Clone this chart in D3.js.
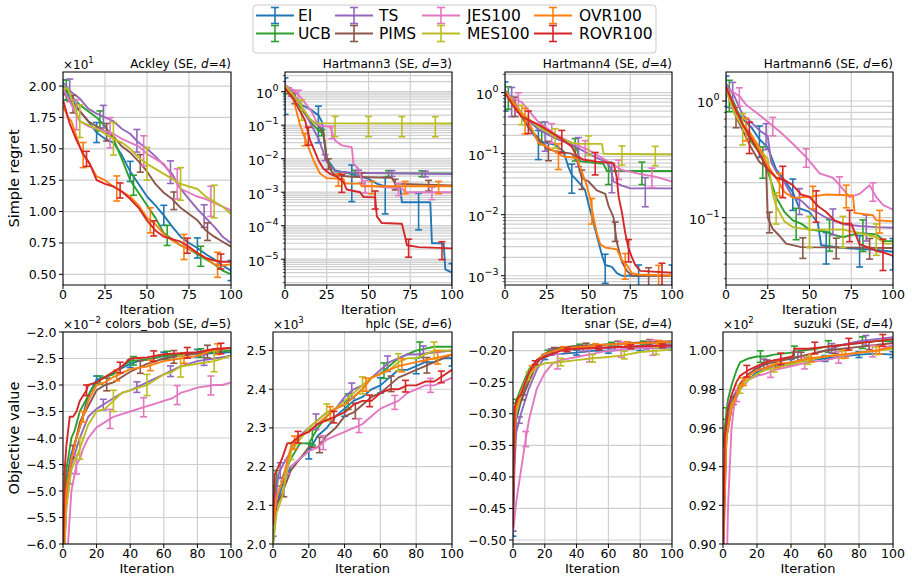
<!DOCTYPE html>
<html><head><meta charset="utf-8">
<script src="https://cdn.jsdelivr.net/npm/d3@7"></script>
<style>body{margin:0;background:#fff}svg{display:block;font-family:"DejaVu Sans",sans-serif}</style>
</head><body><svg id="c" width="912" height="581"></svg>
<script>
// ---------------- DATA ----------------
const seriesNames = ["EI","UCB","TS","PIMS","JES100","MES100","OVR100","ROVR100"];
const seriesColors = ["#1f77b4","#2ca02c","#9467bd","#8c564b","#e377c2","#bcbd22","#ff7f0e","#d62728"];
const errStart = [0,2,4,6,8,10,12,14];   // iteration of first error bar per series
const errEvery = 20;
const topXTicks = [0,25,50,75,100];
const bottomXTicks = [0,20,40,60,80,100];
const ackleyTicks = [0.5,0.75,1.0,1.25,1.5,1.75,2.0];
const bobTicks = [-6,-5.5,-5,-4.5,-4,-3.5,-3,-2.5,-2];
const hplcTicks = [2.0,2.1,2.2,2.3,2.4,2.5];
const snarTicks = [-0.5,-0.45,-0.4,-0.35,-0.3,-0.25,-0.2];
const suzukiTicks = [0.90,0.92,0.94,0.96,0.98,1.00];

// series order: EI, UCB, TS, PIMS, JES100, MES100, OVR100, ROVR100 ; points [iteration, value]
const ackley = [
 [[0,1.97],[5,1.9],[10,1.8],[15,1.72],[20,1.63],[25,1.58],[30,1.55],[35,1.45],[40,1.32],[45,1.22],[50,1.12],[55,1.05],[60,0.97],[65,0.88],[70,0.8],[75,0.75],[80,0.71],[85,0.66],[90,0.62],[95,0.57],[100,0.53]],
 [[0,2.0],[5,1.92],[10,1.85],[15,1.8],[20,1.75],[25,1.68],[30,1.58],[35,1.42],[40,1.25],[45,1.15],[50,1.05],[55,0.95],[60,0.83],[65,0.78],[70,0.73],[75,0.7],[80,0.66],[85,0.62],[90,0.58],[95,0.53],[100,0.5]],
 [[0,2.03],[5,1.95],[10,1.9],[15,1.82],[20,1.78],[25,1.75],[30,1.72],[35,1.66],[40,1.62],[45,1.55],[50,1.5],[55,1.44],[60,1.37],[65,1.3],[70,1.18],[75,1.1],[80,1.02],[85,0.95],[90,0.88],[95,0.8],[100,0.75]],
 [[0,1.95],[5,1.87],[10,1.8],[15,1.72],[20,1.68],[25,1.64],[30,1.6],[35,1.52],[40,1.47],[45,1.4],[50,1.32],[55,1.22],[60,1.15],[65,1.1],[70,1.03],[75,0.98],[80,0.93],[85,0.85],[90,0.8],[95,0.76],[100,0.72]],
 [[0,1.98],[5,1.85],[10,1.72],[15,1.68],[20,1.66],[25,1.64],[30,1.62],[35,1.58],[40,1.55],[45,1.52],[50,1.46],[55,1.42],[60,1.38],[65,1.28],[70,1.18],[75,1.15],[80,1.12],[85,1.1],[90,1.07],[95,1.04],[100,1.01]],
 [[0,1.98],[3,1.98],[5,1.9],[10,1.72],[15,1.69],[20,1.66],[25,1.62],[30,1.58],[35,1.55],[40,1.5],[45,1.43],[50,1.38],[55,1.34],[60,1.3],[65,1.26],[70,1.22],[75,1.2],[80,1.18],[85,1.12],[90,1.08],[95,1.04],[100,0.98]],
 [[0,1.84],[3,1.75],[5,1.72],[8,1.6],[10,1.52],[12,1.45],[15,1.4],[20,1.28],[25,1.25],[30,1.2],[35,1.16],[40,1.12],[45,1.05],[50,0.95],[55,0.9],[60,0.82],[65,0.77],[70,0.73],[75,0.7],[80,0.67],[85,0.63],[90,0.58],[95,0.57],[100,0.58]],
 [[0,1.89],[4,1.7],[8,1.57],[12,1.46],[16,1.38],[20,1.25],[25,1.22],[30,1.2],[35,1.16],[40,1.1],[45,1.03],[50,0.93],[55,0.85],[60,0.8],[65,0.78],[70,0.76],[75,0.72],[80,0.67],[85,0.63],[90,0.61],[95,0.6],[100,0.6]]
];
const hartmann3 = [
 [[0,1.4],[5,0.8],[10,0.4],[15,0.3],[20,0.2],[22,0.13],[25,0.01],[30,0.0045],[40,0.0035],[50,0.0025],[55,0.0018],[60,0.0015],[69,0.0014],[70,5e-4],[87,5e-4],[88,3e-5],[95,3e-5],[96,5e-6],[100,4e-6]],
 [[0,1.45],[5,0.7],[10,0.3],[15,0.13],[20,0.07],[23,0.056],[25,0.009],[30,0.0042],[40,0.0037],[100,0.0036]],
 [[0,1.6],[5,0.8],[10,0.35],[15,0.12],[20,0.04],[25,0.008],[30,0.0042],[40,0.0038],[100,0.0035]],
 [[0,1.4],[5,0.8],[10,0.35],[15,0.15],[20,0.1],[23,0.06],[25,0.01],[28,0.004],[30,0.0032],[40,0.0029],[50,0.0028],[64,0.0027],[66,0.0018],[80,0.0017],[100,0.0016]],
 [[0,1.6],[5,1.1],[10,0.63],[16,0.25],[20,0.1],[27,0.09],[30,0.035],[34,0.025],[40,0.022],[41,0.007],[44,0.005],[47,0.0016],[60,0.0014],[70,0.0013],[72,0.001],[100,0.001]],
 [[0,1.5],[5,0.8],[10,0.35],[15,0.15],[18,0.115],[100,0.112]],
 [[0,1.3],[5,0.6],[9,0.1],[13,0.03],[17,0.009],[21,0.0036],[25,0.0026],[35,0.0025],[36,0.0018],[45,0.0018],[46,0.0015],[100,0.0015]],
 [[0,1.26],[5,0.6],[12,0.14],[15,0.036],[20,0.009],[23,0.005],[27,0.0035],[31,0.0029],[35,0.002],[37,0.0012],[45,0.001],[47,7.2e-4],[54,7e-4],[55,1.9e-4],[58,1.2e-4],[70,1.15e-4],[72,4.5e-5],[73,2.6e-5],[80,2.3e-5],[100,2.1e-5]]
];
const hartmann4 = [
 [[0,1.0],[5,0.7],[10,0.4],[15,0.25],[20,0.16],[25,0.15],[30,0.14],[35,0.11],[38,0.06],[40,0.045],[45,0.032],[48,0.025],[50,0.015],[55,0.0045],[58,0.0022],[60,0.0015],[64,0.0014],[67,0.0011],[70,0.001],[100,0.001]],
 [[0,1.05],[5,0.7],[10,0.45],[20,0.25],[30,0.18],[35,0.16],[40,0.14],[43,0.12],[45,0.075],[59,0.068],[61,0.052],[100,0.052]],
 [[0,1.1],[5,0.75],[10,0.45],[20,0.25],[30,0.18],[40,0.14],[50,0.1],[55,0.085],[60,0.075],[63,0.06],[65,0.035],[70,0.03],[75,0.027],[100,0.027]],
 [[0,1.0],[5,0.7],[10,0.4],[15,0.25],[20,0.18],[25,0.12],[30,0.11],[40,0.1],[43,0.08],[46,0.04],[50,0.035],[55,0.025],[60,0.022],[62,0.014],[65,0.009],[67,0.0035],[70,0.0017],[73,0.0012],[76,0.001],[100,0.001]],
 [[0,0.95],[5,0.8],[10,0.7],[20,0.33],[30,0.21],[40,0.15],[50,0.115],[60,0.079],[70,0.054],[80,0.047],[90,0.042],[100,0.035]],
 [[0,1.05],[5,0.7],[10,0.46],[20,0.28],[30,0.19],[40,0.15],[45,0.145],[58,0.145],[59,0.1],[100,0.097]],
 [[0,0.95],[5,0.7],[10,0.45],[15,0.3],[20,0.15],[25,0.13],[32,0.1],[35,0.09],[43,0.085],[46,0.05],[49,0.03],[51,0.018],[53,0.009],[55,0.005],[57,0.0033],[60,0.0029],[67,0.0027],[70,0.0018],[73,0.0015],[76,0.0011],[80,0.00105],[100,0.001]],
 [[0,1.0],[5,0.6],[10,0.4],[20,0.3],[27,0.23],[33,0.18],[40,0.13],[43,0.09],[47,0.08],[55,0.074],[65,0.07],[67,0.04],[68,0.02],[70,0.011],[72,0.005],[74,0.0028],[76,0.002],[78,0.0015],[81,0.0012],[100,0.00112]]
];
const hartmann6 = [
 [[0,1.26],[5,0.89],[10,0.7],[15,0.6],[20,0.47],[25,0.4],[30,0.26],[35,0.21],[40,0.165],[44,0.12],[50,0.112],[55,0.09],[57,0.058],[70,0.055],[90,0.053],[100,0.051]],
 [[0,1.32],[5,0.95],[10,0.63],[15,0.45],[20,0.36],[25,0.25],[30,0.15],[35,0.112],[40,0.095],[45,0.089],[50,0.079],[60,0.076],[65,0.071],[70,0.068],[75,0.071],[80,0.074],[90,0.072],[95,0.063],[100,0.063]],
 [[0,1.41],[5,1.1],[10,0.76],[15,0.66],[20,0.56],[25,0.5],[27,0.3],[30,0.25],[35,0.2],[40,0.15],[45,0.14],[50,0.12],[55,0.11],[60,0.1],[70,0.088],[80,0.085],[90,0.083],[100,0.082]],
 [[0,1.26],[5,0.79],[10,0.56],[15,0.4],[20,0.3],[24,0.27],[25,0.1],[28,0.08],[32,0.07],[36,0.06],[45,0.056],[100,0.055]],
 [[0,1.26],[4,1.2],[8,1.1],[12,0.93],[20,0.76],[27,0.63],[32,0.55],[40,0.43],[48,0.33],[56,0.24],[64,0.22],[68,0.19],[74,0.15],[80,0.16],[86,0.19],[90,0.15],[94,0.129],[100,0.117]],
 [[0,1.26],[5,0.79],[10,0.6],[15,0.5],[20,0.38],[25,0.32],[28,0.16],[30,0.126],[35,0.093],[40,0.083],[50,0.079],[70,0.079],[80,0.074],[90,0.068],[95,0.06],[100,0.06]],
 [[0,1.32],[5,0.89],[10,0.63],[15,0.52],[20,0.4],[25,0.28],[30,0.22],[35,0.166],[40,0.148],[50,0.151],[60,0.158],[76,0.155],[77,0.11],[88,0.105],[90,0.095],[100,0.093]],
 [[0,1.32],[5,0.89],[10,0.63],[15,0.48],[20,0.355],[25,0.26],[30,0.22],[35,0.21],[40,0.19],[45,0.158],[50,0.151],[55,0.126],[60,0.112],[65,0.095],[70,0.089],[75,0.089],[80,0.059],[85,0.056],[90,0.052],[95,0.05],[100,0.047]]
];
const colorsBob = [
 [[0,-6.5],[1,-5.5],[2,-4.8],[5,-4.3],[8,-4.0],[10,-3.8],[15,-3.2],[20,-2.9],[25,-2.85],[30,-2.78],[35,-2.68],[40,-2.6],[45,-2.55],[50,-2.52],[60,-2.45],[70,-2.45],[80,-2.4],[90,-2.4],[100,-2.38]],
 [[0,-6.5],[1,-5.3],[2,-4.6],[5,-4.0],[7,-3.85],[10,-3.5],[15,-3.2],[20,-2.95],[25,-2.85],[30,-2.8],[35,-2.65],[40,-2.55],[50,-2.52],[60,-2.45],[70,-2.42],[80,-2.4],[90,-2.38],[100,-2.35]],
 [[0,-6.5],[1,-6.0],[2,-5.3],[5,-4.5],[10,-4.0],[15,-3.6],[20,-3.45],[25,-3.35],[30,-3.25],[35,-3.15],[40,-3.1],[50,-2.95],[60,-2.8],[70,-2.65],[80,-2.55],[90,-2.5],[100,-2.45]],
 [[0,-6.5],[1,-5.8],[2,-5.0],[5,-4.4],[10,-3.7],[15,-3.4],[20,-3.1],[25,-3.0],[30,-2.95],[40,-2.75],[50,-2.6],[60,-2.5],[70,-2.45],[80,-2.4],[90,-2.35],[100,-2.3]],
 [[0,-7.0],[2,-6.5],[3,-6.0],[5,-5.0],[8,-4.5],[10,-4.4],[12,-4.2],[15,-4.0],[20,-3.8],[25,-3.7],[30,-3.6],[35,-3.55],[40,-3.5],[50,-3.4],[55,-3.35],[60,-3.3],[65,-3.25],[70,-3.15],[75,-3.1],[80,-3.05],[90,-3.0],[95,-3.0],[100,-2.95]],
 [[0,-6.5],[1,-6.0],[2,-5.3],[5,-4.6],[10,-4.2],[15,-3.75],[20,-3.5],[25,-3.45],[30,-3.3],[35,-3.15],[40,-3.1],[45,-3.05],[50,-3.0],[55,-2.9],[60,-2.8],[65,-2.75],[70,-2.65],[80,-2.6],[90,-2.55],[100,-2.45]],
 [[0,-6.5],[1,-5.6],[2,-5.0],[5,-4.4],[8,-4.0],[10,-3.8],[15,-3.3],[20,-3.0],[25,-2.95],[30,-2.85],[40,-2.7],[50,-2.65],[60,-2.55],[70,-2.5],[80,-2.45],[90,-2.33],[100,-2.3]],
 [[0,-6.5],[1,-4.6],[2,-4.15],[4,-3.6],[6,-3.6],[8,-3.5],[10,-3.3],[14,-3.1],[15,-3.0],[20,-2.95],[25,-2.85],[30,-2.75],[35,-2.65],[40,-2.5],[50,-2.48],[60,-2.42],[70,-2.4],[80,-2.38],[90,-2.32],[100,-2.3]]
];
const hplc = [
 [[0,2.0],[2,2.1],[5,2.15],[10,2.2],[15,2.22],[20,2.24],[25,2.28],[30,2.3],[35,2.33],[40,2.35],[45,2.37],[50,2.38],[55,2.4],[60,2.41],[65,2.43],[70,2.45],[75,2.45],[80,2.46],[85,2.47],[90,2.47],[95,2.48],[100,2.48]],
 [[0,2.05],[2,2.17],[5,2.17],[10,2.22],[15,2.26],[20,2.26],[25,2.3],[30,2.33],[35,2.35],[40,2.36],[45,2.38],[50,2.4],[55,2.43],[60,2.44],[65,2.46],[70,2.48],[75,2.49],[80,2.5],[85,2.505],[90,2.51],[100,2.51]],
 [[0,2.05],[3,2.18],[5,2.2],[10,2.24],[15,2.28],[20,2.3],[25,2.32],[30,2.34],[35,2.35],[40,2.38],[45,2.4],[50,2.41],[55,2.43],[60,2.45],[65,2.47],[70,2.48],[75,2.49],[80,2.49],[90,2.495],[100,2.5]],
 [[0,2.0],[2,2.1],[5,2.13],[10,2.19],[15,2.22],[20,2.25],[25,2.25],[30,2.28],[35,2.3],[40,2.33],[45,2.34],[50,2.36],[55,2.38],[60,2.39],[65,2.41],[70,2.43],[75,2.44],[80,2.45],[85,2.46],[90,2.47],[95,2.48],[100,2.49]],
 [[0,2.05],[2,2.12],[5,2.16],[8,2.2],[10,2.2],[15,2.22],[20,2.24],[25,2.25],[30,2.27],[35,2.28],[40,2.29],[45,2.3],[50,2.31],[55,2.33],[60,2.35],[65,2.36],[70,2.37],[75,2.39],[80,2.4],[85,2.41],[90,2.41],[95,2.42],[100,2.43]],
 [[0,2.0],[2,2.08],[5,2.12],[10,2.24],[15,2.27],[20,2.3],[25,2.32],[30,2.34],[35,2.35],[40,2.37],[45,2.39],[50,2.41],[55,2.43],[60,2.44],[65,2.45],[70,2.47],[75,2.48],[80,2.48],[85,2.49],[90,2.5],[100,2.5]],
 [[0,2.05],[2,2.12],[5,2.16],[10,2.25],[15,2.28],[20,2.29],[25,2.31],[30,2.33],[35,2.35],[40,2.36],[45,2.38],[50,2.4],[55,2.43],[60,2.44],[65,2.45],[70,2.46],[75,2.465],[80,2.47],[85,2.475],[90,2.48],[100,2.49]],
 [[0,2.05],[1,2.18],[3,2.2],[5,2.22],[8,2.26],[10,2.26],[15,2.28],[20,2.29],[25,2.31],[30,2.32],[35,2.33],[40,2.34],[45,2.36],[50,2.37],[55,2.37],[60,2.39],[65,2.4],[70,2.4],[75,2.41],[80,2.41],[85,2.42],[90,2.42],[95,2.435],[100,2.45]]
];
const snar = [
 [[0,-0.49],[1,-0.35],[2,-0.31],[5,-0.28],[10,-0.24],[15,-0.215],[20,-0.21],[25,-0.205],[30,-0.205],[40,-0.203],[50,-0.2],[60,-0.2],[80,-0.196],[100,-0.195]],
 [[0,-0.42],[1,-0.3],[2,-0.28],[5,-0.26],[10,-0.23],[15,-0.215],[20,-0.205],[25,-0.198],[30,-0.195],[40,-0.193],[60,-0.19],[80,-0.188],[100,-0.187]],
 [[0,-0.45],[1,-0.38],[2,-0.33],[5,-0.3],[10,-0.26],[15,-0.23],[20,-0.21],[25,-0.2],[30,-0.198],[40,-0.197],[60,-0.195],[80,-0.193],[100,-0.19]],
 [[0,-0.45],[1,-0.35],[2,-0.3],[5,-0.28],[10,-0.25],[15,-0.22],[20,-0.205],[25,-0.2],[30,-0.195],[40,-0.193],[60,-0.19],[80,-0.187],[100,-0.185]],
 [[0,-0.49],[2,-0.44],[5,-0.39],[8,-0.34],[10,-0.31],[12,-0.29],[15,-0.26],[18,-0.245],[20,-0.235],[25,-0.22],[30,-0.215],[40,-0.21],[50,-0.205],[60,-0.2],[70,-0.198],[80,-0.196],[90,-0.195],[100,-0.193]],
 [[0,-0.42],[1,-0.33],[2,-0.3],[5,-0.27],[10,-0.24],[15,-0.225],[20,-0.22],[30,-0.218],[40,-0.215],[50,-0.212],[60,-0.21],[70,-0.207],[80,-0.202],[90,-0.2],[100,-0.198]],
 [[0,-0.42],[1,-0.32],[2,-0.29],[5,-0.265],[10,-0.235],[15,-0.215],[20,-0.205],[30,-0.197],[40,-0.195],[60,-0.19],[80,-0.188],[100,-0.186]],
 [[0,-0.48],[1,-0.29],[3,-0.275],[5,-0.27],[10,-0.235],[15,-0.215],[20,-0.21],[25,-0.205],[30,-0.2],[40,-0.197],[60,-0.195],[80,-0.193],[100,-0.192]]
];
const suzuki = [
 [[0,0.89],[2,0.955],[5,0.97],[10,0.98],[15,0.985],[20,0.989],[25,0.991],[30,0.992],[40,0.994],[50,0.995],[60,0.996],[70,0.997],[80,0.998],[90,0.9985],[100,0.998]],
 [[0,0.95],[1,0.96],[3,0.975],[5,0.982],[8,0.99],[10,0.994],[15,0.996],[20,0.997],[25,0.997],[30,0.998],[40,0.999],[45,1.0],[55,1.001],[60,1.002],[70,1.003],[80,1.004],[90,1.005],[100,1.005]],
 [[0,0.92],[2,0.96],[5,0.975],[10,0.982],[15,0.988],[20,0.99],[25,0.994],[30,0.995],[40,0.996],[50,0.998],[60,1.0],[70,1.003],[80,1.005],[90,1.006],[100,1.007]],
 [[0,0.92],[2,0.955],[5,0.972],[10,0.983],[15,0.988],[20,0.991],[25,0.993],[30,0.994],[40,0.996],[50,0.998],[60,1.0],[70,1.001],[80,1.002],[90,1.003],[100,1.004]],
 [[0,0.85],[2,0.88],[3,0.92],[5,0.96],[7,0.975],[10,0.98],[15,0.985],[20,0.987],[25,0.988],[30,0.99],[40,0.992],[50,0.994],[60,0.995],[70,0.997],[80,0.999],[90,1.0],[100,1.003]],
 [[0,0.91],[2,0.955],[5,0.972],[10,0.98],[15,0.985],[20,0.988],[25,0.99],[30,0.991],[40,0.993],[50,0.995],[60,0.997],[70,0.998],[80,0.999],[90,1.0],[100,1.001]],
 [[0,0.89],[2,0.955],[5,0.97],[10,0.982],[15,0.987],[20,0.99],[25,0.991],[30,0.993],[40,0.994],[50,0.996],[60,0.997],[70,0.998],[80,0.999],[90,1.0],[100,1.002]],
 [[0,0.89],[1,0.955],[3,0.97],[5,0.977],[8,0.984],[10,0.987],[15,0.99],[20,0.992],[25,0.994],[30,0.995],[35,0.996],[41,0.997],[42,1.001],[50,1.001],[60,1.002],[70,1.003],[80,1.004],[90,1.005],[100,1.006]]
];
// standard errors (absolute for linear panels, relative for log panels)
const ackleySE = [0.08,0.08,0.09,0.07,0.12,0.13,0.1,0.06];
const hartmann3SE = [0.85,0.2,0.2,0.35,0.4,0.6,0.4,0.55];
const hartmann4SE = [0.5,0.4,0.5,0.35,0.35,0.35,0.45,0.4];
const hartmann6SE = [0.3,0.3,0.25,0.2,0.18,0.3,0.22,0.3];
const colorsBobSE = [0.07,0.08,0.1,0.12,0.18,0.2,0.1,0.1];
const hplcSE = [0.02,0.02,0.02,0.02,0.018,0.022,0.017,0.015];
const snarSE = [0.004,0.003,0.005,0.004,0.012,0.006,0.003,0.003];
const suzukiSE = [0.0015,0.003,0.0025,0.002,0.003,0.002,0.002,0.003];

// ---------------- LAYOUT ----------------
const panels = [
 {title:"Ackley",d:4,data:ackley,se:ackleySE,log:false,domain:[0.415,2.112],ticks:ackleyTicks,fmt:d3.format(".2f"),offset:"1",box:[63,231,72,285],xt:topXTicks,ylabel:"Simple regret"},
 {title:"Hartmann3",d:3,data:hartmann3,se:hartmann3SE,log:true,domain:[1.7e-6,3.87],box:[285,452,72,285],xt:topXTicks},
 {title:"Hartmann4",d:4,data:hartmann4,se:hartmann4SE,log:true,domain:[7.05e-4,2.18],box:[505,672,72,285],xt:topXTicks},
 {title:"Hartmann6",d:6,data:hartmann6,se:hartmann6SE,log:true,domain:[0.0265,1.773],box:[726,893,72,285],xt:topXTicks},
 {title:"colors_bob",d:5,data:colorsBob,se:colorsBobSE,log:false,domain:[-6,-2],ticks:bobTicks,fmt:d3.format(".1f"),offset:"−2",box:[63,231,332,544],xt:bottomXTicks,ylabel:"Objective value"},
 {title:"hplc",d:6,data:hplc,se:hplcSE,log:false,domain:[2.0,2.548],ticks:hplcTicks,fmt:d3.format(".1f"),offset:"3",box:[273,452,332,544],xt:bottomXTicks},
 {title:"snar",d:4,data:snar,se:snarSE,log:false,domain:[-0.5063,-0.1704],ticks:snarTicks,fmt:d3.format(".2f"),box:[513,672,332,544],xt:bottomXTicks},
 {title:"suzuki",d:4,data:suzuki,se:suzukiSE,log:false,domain:[0.90,1.0097],ticks:suzukiTicks,fmt:d3.format(".2f"),offset:"2",box:[723,893,332,544],xt:bottomXTicks}
];

const svg = d3.select("#c");
const defs = svg.append("defs");
const GRID = "#cfcfcf";
const TF = 12.5;

panels.forEach((p,pi)=>{
  const [x0,x1,y0,y1] = p.box;
  const xs = d3.scaleLinear().domain([0,100]).range([x0,x1]);
  const ys = (p.log? d3.scaleLog(): d3.scaleLinear()).domain(p.domain).range([y1,y0]);
  const cid = "clip"+pi;
  defs.append("clipPath").attr("id",cid).append("rect").attr("x",x0).attr("y",y0).attr("width",x1-x0).attr("height",y1-y0);
  const g = svg.append("g");

  let majors=[], minors=[];
  if(p.log){
    const lo=Math.floor(Math.log10(p.domain[0])), hi=Math.ceil(Math.log10(p.domain[1]));
    for(let e=lo;e<=hi;e++){
      const v=Math.pow(10,e);
      if(v>=p.domain[0]&&v<=p.domain[1]) majors.push({v,e});
      for(let k=2;k<10;k++){const m=k*v; if(m>=p.domain[0]&&m<=p.domain[1]) minors.push(m);}
    }
  } else majors = p.ticks.map(v=>({v}));

  // grid
  const gg = g.append("g").attr("stroke",GRID).attr("stroke-width",1.2);
  minors.forEach(m=>gg.append("line").attr("x1",x0).attr("x2",x1).attr("y1",ys(m)).attr("y2",ys(m)));
  majors.forEach(t=>gg.append("line").attr("x1",x0).attr("x2",x1).attr("y1",ys(t.v)).attr("y2",ys(t.v)));
  p.xt.forEach(t=>gg.append("line").attr("x1",xs(t)).attr("x2",xs(t)).attr("y1",y0).attr("y2",y1));

  // series
  const lg = g.append("g").attr("clip-path",`url(#${cid})`);
  const line = d3.line().x(d=>xs(d[0])).y(d=>ys(d[1]));
  p.data.forEach((pts,si)=>{
    const col = seriesColors[si];
    lg.append("path").attr("d",line(pts)).attr("fill","none").attr("stroke",col).attr("stroke-width",1.9).attr("stroke-linejoin","round");
    for(let it=errStart[si]; it<=100; it+=errEvery){
      let j=0; while(j<pts.length-2 && pts[j+1][0]<it) j++;
      const a=pts[j], b=pts[j+1];
      const t=(it-a[0])/(b[0]-a[0]);
      const cy = ys(a[1])+(ys(b[1])-ys(a[1]))*t;
      const v = ys.invert(cy);
      let lo, hi;
      if(p.log){ hi=v*(1+p.se[si]); lo=Math.max(v*(1-p.se[si]), p.domain[0]*0.5); }
      else { hi=v+p.se[si]; lo=v-p.se[si]; }
      const cx = xs(it);
      const eb = lg.append("g").attr("stroke",col).attr("stroke-width",1.6);
      eb.append("line").attr("x1",cx).attr("x2",cx).attr("y1",ys(lo)).attr("y2",ys(hi));
      eb.append("line").attr("x1",cx-3.5).attr("x2",cx+3.5).attr("y1",ys(lo)).attr("y2",ys(lo));
      eb.append("line").attr("x1",cx-3.5).attr("x2",cx+3.5).attr("y1",ys(hi)).attr("y2",ys(hi));
    }
  });

  // spines
  g.append("rect").attr("x",x0).attr("y",y0).attr("width",x1-x0).attr("height",y1-y0).attr("fill","none").attr("stroke","#000").attr("stroke-width",1);

  // ticks
  const tg = g.append("g").attr("stroke","#000").attr("stroke-width",1);
  p.xt.forEach(t=>tg.append("line").attr("x1",xs(t)).attr("x2",xs(t)).attr("y1",y1).attr("y2",y1+4));
  majors.forEach(t=>tg.append("line").attr("x1",x0-4).attr("x2",x0).attr("y1",ys(t.v)).attr("y2",ys(t.v)));
  minors.forEach(m=>tg.append("line").attr("x1",x0-2.2).attr("x2",x0).attr("y1",ys(m)).attr("y2",ys(m)).attr("stroke-width",0.7));

  // x tick labels
  p.xt.forEach(t=>g.append("text").attr("x",xs(t)).attr("y",y1+13.5).attr("text-anchor","middle").attr("font-size",TF).text(t));
  g.append("text").attr("x",(x0+x1)/2).attr("y",y1+29).attr("text-anchor","middle").attr("font-size",13).text("Iteration");

  // y tick labels
  majors.forEach(t=>{
    if(p.log){
      const tx = g.append("text").attr("x",x0-6.5).attr("y",ys(t.v)+6.3).attr("text-anchor","end").attr("font-size",TF+0.5);
      tx.append("tspan").text("10");
      tx.append("tspan").attr("dy",-7).attr("font-size",9.5).text(d3.format("")(t.e).replace("-","−"));
    } else {
      g.append("text").attr("x",x0-6.5).attr("y",ys(t.v)+4.5).attr("text-anchor","end").attr("font-size",TF).text(p.fmt(t.v));
    }
  });

  // offset text
  if(p.offset){
    const ot = g.append("text").attr("x",x0).attr("y",y0-3).attr("font-size",12);
    ot.append("tspan").text("×10");
    ot.append("tspan").attr("dy",-6).attr("font-size",8.5).text(p.offset);
  }

  // title
  const tt = g.append("text").attr("x",x1).attr("y",y0-3.6).attr("text-anchor","end").attr("font-size",12);
  tt.append("tspan").text(p.title+" (SE, ");
  tt.append("tspan").attr("font-style","italic").text("d");
  tt.append("tspan").text("="+p.d+")");

  if(p.ylabel){
    g.append("text").attr("transform",`translate(14,${(y0+y1)/2}) rotate(-90)`).attr("text-anchor","middle").attr("dominant-baseline","central").attr("font-size",14.5).text(p.ylabel);
  }
});

// legend
const leg = svg.append("g");
leg.append("rect").attr("x",253).attr("y",5).attr("width",403).attr("height",48).attr("rx",3).attr("fill","#fff").attr("stroke","#cccccc").attr("stroke-width",1);
const colHandleX=[256,335,422,534], colTextX=[298,379,467,579], rowY=[15.5,33.5];
seriesNames.forEach((n,i)=>{
  const c=Math.floor(i/2), r=i%2, col=seriesColors[i];
  const hx=colHandleX[c], y=rowY[r], hw=38, cx=hx+hw/2;
  const h=leg.append("g").attr("stroke",col).attr("stroke-width",1.9);
  h.append("line").attr("x1",hx).attr("x2",hx+hw).attr("y1",y).attr("y2",y);
  h.append("line").attr("x1",cx).attr("x2",cx).attr("y1",y-8).attr("y2",y+8).attr("stroke-width",1.6);
  h.append("line").attr("x1",cx-4).attr("x2",cx+4).attr("y1",y-8).attr("y2",y-8).attr("stroke-width",1.6);
  h.append("line").attr("x1",cx-4).attr("x2",cx+4).attr("y1",y+8).attr("y2",y+8).attr("stroke-width",1.6);
  leg.append("text").attr("x",colTextX[c]).attr("y",y+5.5).attr("font-size",15.5).text(n);
});
</script></body></html>
